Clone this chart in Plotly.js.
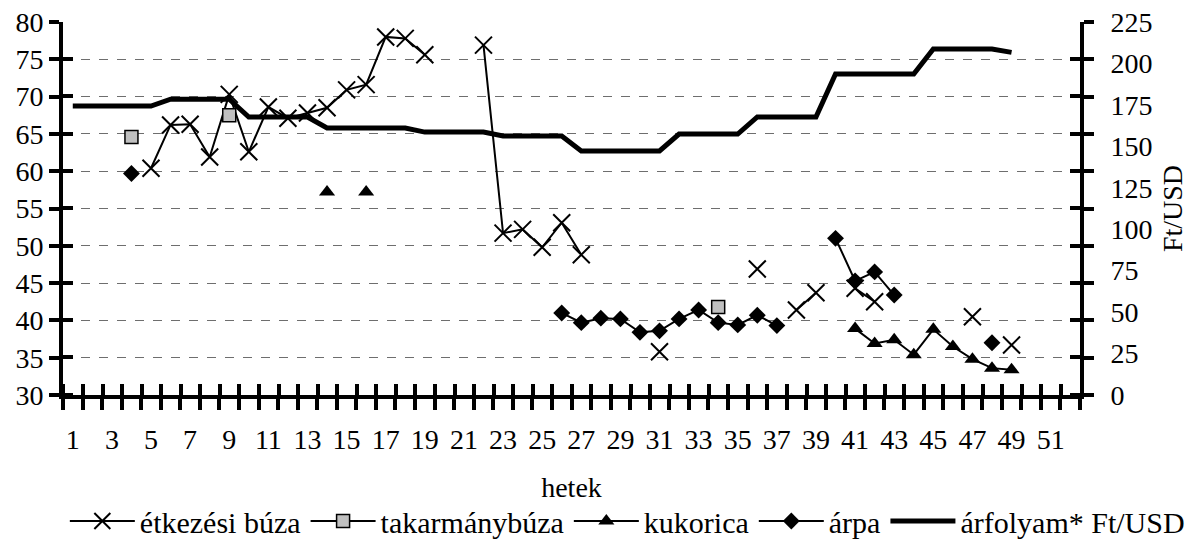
<!DOCTYPE html>
<html><head><meta charset="utf-8">
<script src="https://cdn.plot.ly/plotly-3.0.1.min.js"></script>
<style>html,body{margin:0;padding:0;background:#fff}#chart{width:1194px;height:540px}</style>
</head><body><div id="chart"></div>
<script>
// week categories (hetek)
const weeks = [1,2,3,4,5,6,7,8,9,10,11,12,13,14,15,16,17,18,19,20,21,22,23,24,25,26,27,28,29,30,31,32,33,34,35,36,37,38,39,40,41,42,43,44,45,46,47,48,49];
// tick labels on the category axis
const xTickVals = [1,3,5,7,9,11,13,15,17,19,21,23,25,27,29,31,33,35,37,39,41,43,45,47,49,51];
const xTickLabels = ["1","3","5","7","9","11","13","15","17","19","21","23","25","27","29","31","33","35","37","39","41","43","45","47","49","51"];
// right axis tick labels
const y2TickVals = [0,25,50,75,100,125,150,175,200,225];
const y2TickLabels = ["0","25","50","75","100","125","150","175","200","225"];

// étkezési búza (left axis)
const etkezesiBuza = [null,null,null,null,60.4,66.2,66.3,61.9,70.3,62.6,68.6,67.1,67.8,68.5,70.9,71.6,78.0,77.8,75.6,null,null,76.9,51.7,52.2,49.8,53.1,48.8,null,null,null,35.8,null,null,null,null,46.9,null,41.4,43.7,null,44.3,42.5,null,null,null,null,40.5,null,36.7];
// takarmánybúza
const takarmanyBuza = [null,null,null,64.6,null,null,null,null,67.5,null,null,null,null,null,null,null,null,null,null,null,null,null,null,null,null,null,null,null,null,null,null,null,null,41.8,null,null,null,null,null,null,null,null,null,null,null,null,null,null,null];
// kukorica
const kukorica = [null,null,null,null,null,null,null,null,null,null,null,null,null,57.2,null,57.2,null,null,null,null,null,null,null,null,null,null,null,null,null,null,null,null,null,null,null,null,null,null,null,null,38.9,36.9,37.4,35.4,38.8,36.5,34.8,33.6,33.4];
// árpa
const arpa = [null,null,null,59.7,null,null,null,null,null,null,null,null,null,null,null,null,null,null,null,null,null,null,null,null,null,41.0,39.7,40.3,40.2,38.4,38.6,40.2,41.4,39.7,39.4,40.7,39.3,null,null,51.0,45.3,46.5,43.4,null,null,null,null,37.0,null];
// árfolyam* Ft/USD (right axis)
const arfolyam = [174.3,174.3,174.3,174.3,174.3,178.4,178.4,178.4,178.4,167.7,167.7,167.7,167.7,161.1,161.1,161.1,161.1,161.1,158.6,158.6,158.6,158.6,156.2,156.2,156.2,156.2,147.2,147.2,147.2,147.2,147.2,157.4,157.4,157.4,157.4,167.7,167.7,167.7,167.7,193.6,193.6,193.6,193.6,193.6,208.7,208.7,208.7,208.7,206.7];

const FONT = "'Liberation Serif', 'Times New Roman', serif";
const CLEAR = 'rgba(0,0,0,0)';

const traces = [
  {x: weeks, y: etkezesiBuza, name: 'étkezési búza', type: 'scatter', mode: 'lines+markers',
   line: {color: '#000', width: 2}, marker: {symbol: 'x-thin-open', size: 17, line: {color: '#000', width: 2}, color: '#000'}},
  {x: weeks, y: takarmanyBuza, name: 'takarmánybúza', type: 'scatter', mode: 'lines+markers',
   line: {color: '#000', width: 2}, marker: {symbol: 'square', size: 13, color: '#c0c0c0', line: {color: '#000', width: 1.5}}},
  {x: weeks, y: kukorica, name: 'kukorica', type: 'scatter', mode: 'lines+markers',
   line: {color: '#000', width: 2}, marker: {symbol: 'triangle-up', size: 14, color: '#000'}},
  {x: weeks, y: arpa, name: 'árpa', type: 'scatter', mode: 'lines+markers',
   line: {color: '#000', width: 2}, marker: {symbol: 'diamond', size: 13, color: '#000'}},
  {x: weeks, y: arfolyam, name: 'árfolyam* Ft/USD', type: 'scatter', mode: 'lines', xaxis: 'x2', yaxis: 'y2',
   line: {color: '#000', width: 5}}
];

const layout = {
  width: 1194, height: 540,
  margin: {l: 63, r: 114, t: 22, b: 145, autoexpand: false},
  paper_bgcolor: '#fff', plot_bgcolor: CLEAR,
  font: {family: FONT, color: '#000', size: 28},
  showlegend: true,
  legend: {orientation: 'h', x: 1.108, xanchor: 'right', y: -0.338, yanchor: 'middle',
           font: {family: FONT, size: 30, color: '#000'},
           itemwidth: 65, tracegroupgap: 0, bgcolor: CLEAR},
  // tick marks at category boundaries, crossing the axis line
  xaxis: {domain: [0, 1], range: [0.5, 52.5], tickmode: 'linear', tick0: 0.5, dtick: 1, showticklabels: false,
          ticks: 'outside', ticklen: 11, tickwidth: 4, tickcolor: '#000',
          minor: {tickmode: 'linear', tick0: 0.52, dtick: 1, ticks: 'inside', ticklen: 11, tickwidth: 4, tickcolor: '#000', showgrid: false},
          showline: true, linewidth: 4, linecolor: '#000', showgrid: false, zeroline: false, automargin: false},
  // category labels and axis title
  xaxis2: {domain: [0, 1], anchor: 'y2', side: 'bottom', range: [0.5, 52.5], tickmode: 'array',
           tickvals: xTickVals, ticktext: xTickLabels, ticks: 'outside', ticklen: 11, tickcolor: CLEAR,
           ticklabelstandoff: 8, automargin: false,
           showline: false, showgrid: false, zeroline: false,
           tickfont: {family: FONT, size: 28},
           title: {text: 'hetek', font: {family: FONT, size: 28}, standoff: 23}},
  yaxis: {domain: [0, 1], range: [30, 80], tickmode: 'linear', tick0: 30, dtick: 5, ticks: 'outside', ticklen: 10, tickwidth: 4, tickcolor: '#000',
          minor: {tickmode: 'linear', tick0: 30.03, dtick: 5, ticks: 'inside', ticklen: 10, tickwidth: 4, tickcolor: '#000', showgrid: false},
          showline: true, linewidth: 4, linecolor: '#000', mirror: 'ticks', zeroline: false, automargin: false,
          showgrid: true, gridcolor: '#6e6e6e', gridwidth: 1, griddash: '9px,9px',
          tickfont: {family: FONT, size: 28}},
  yaxis2: {domain: [0, 1], side: 'right', anchor: 'x2', range: [0, 225], tickmode: 'array',
           tickvals: y2TickVals, ticktext: y2TickLabels,
           ticks: 'outside', ticklen: 24, tickcolor: CLEAR, automargin: false,
           showline: false, zeroline: false, showgrid: false,
           tickfont: {family: FONT, size: 28},
           title: {text: 'Ft/USD', font: {family: FONT, size: 28}, standoff: 10}}
};

Plotly.newPlot('chart', traces, layout, {displayModeBar: false, staticPlot: true});
</script>
</body></html>
